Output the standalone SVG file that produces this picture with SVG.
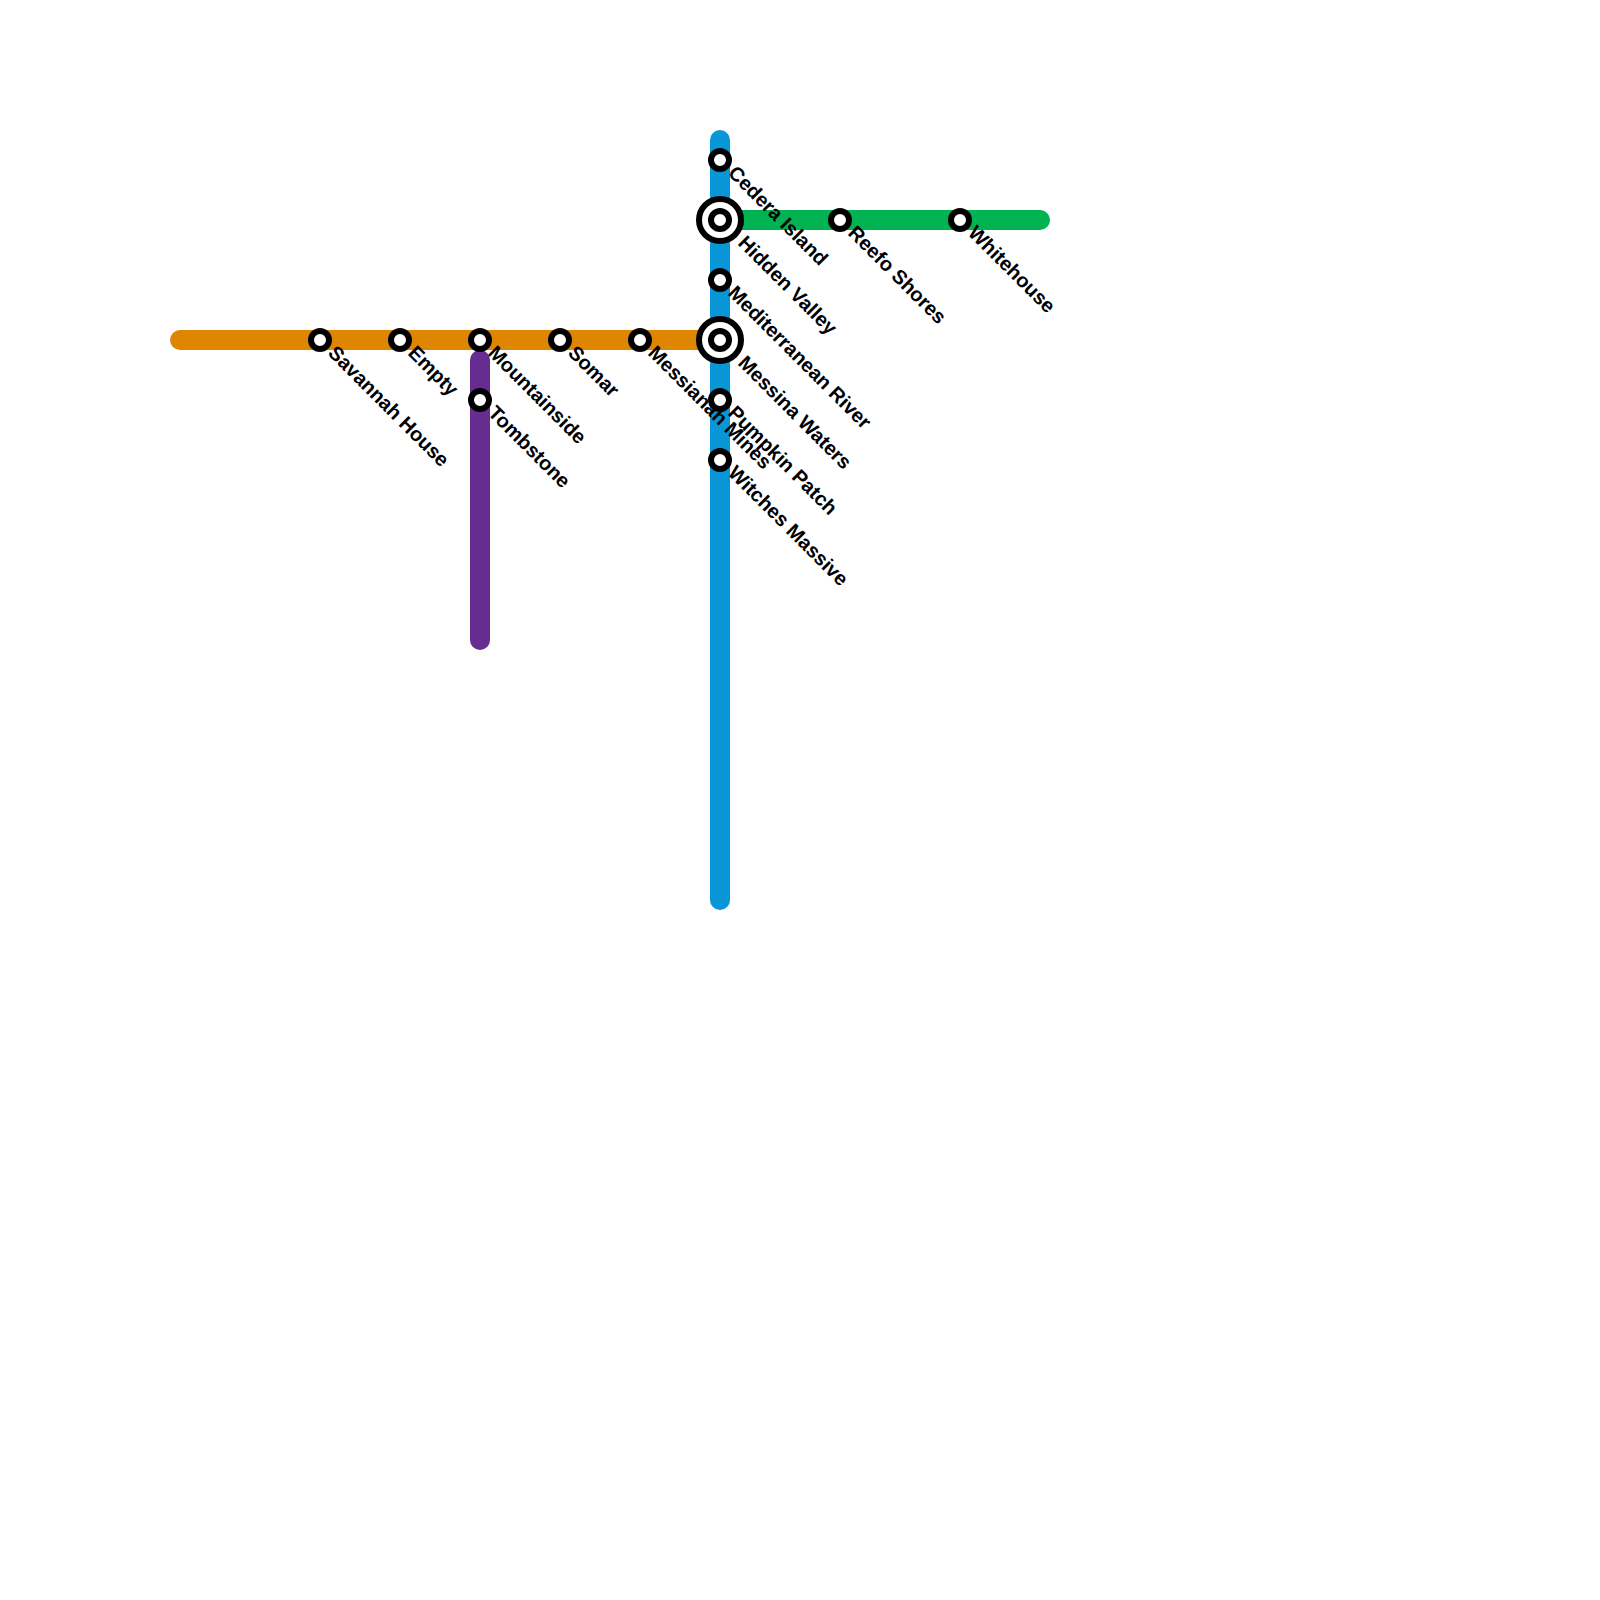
<svg xmlns="http://www.w3.org/2000/svg" width="1600" height="1600" viewBox="0 0 1600 1600">
<style>
.line{fill:none;stroke-width:20;stroke-linecap:round}
.ring{fill:#fff;stroke:#000;stroke-width:6}
.label{font-family:"Liberation Sans",Arial,sans-serif;font-size:20px;font-weight:700;fill:#000}
</style>
<rect width="1600" height="1600" fill="#fff"/>
<g id="connectors">
<path class="line" stroke="#00b251" d="M720 220H1040"/>
<path class="line" stroke="#df8600" d="M180 340H720"/>
<path class="line" stroke="#662c90" d="M480 360V640"/>
<path class="line" stroke="#0896d7" d="M720 140V900"/>
</g>
<g id="savannah-house"><circle class="ring" cx="320" cy="340" r="9"/><text class="label" transform="translate(327 354) rotate(45)">Savannah House</text></g>
<g id="empty"><circle class="ring" cx="400" cy="340" r="9"/><text class="label" transform="translate(407 354) rotate(45)">Empty</text></g>
<g id="mountainside"><circle class="ring" cx="480" cy="340" r="9"/><text class="label" transform="translate(487 354) rotate(45)">Mountainside</text></g>
<g id="somar"><circle class="ring" cx="560" cy="340" r="9"/><text class="label" transform="translate(567 354) rotate(45)">Somar</text></g>
<g id="messianah-mines"><circle class="ring" cx="640" cy="340" r="9"/><text class="label" transform="translate(647 354) rotate(45)">Messianah Mines</text></g>
<g id="tombstone"><circle class="ring" cx="480" cy="400" r="9"/><text class="label" transform="translate(487 414) rotate(45)">Tombstone</text></g>
<g id="cedera-island"><circle class="ring" cx="720" cy="160" r="9"/><text class="label" transform="translate(727 174) rotate(45)">Cedera Island</text></g>
<g id="hidden-valley"><circle class="ring" cx="720" cy="220" r="21"/><circle class="ring" cx="720" cy="220" r="9"/><text class="label" transform="translate(737 244) rotate(45)">Hidden Valley</text></g>
<g id="mediterranean-river"><circle class="ring" cx="720" cy="280" r="9"/><text class="label" transform="translate(727 294) rotate(45)">Mediterranean River</text></g>
<g id="messina-waters"><circle class="ring" cx="720" cy="340" r="21"/><circle class="ring" cx="720" cy="340" r="9"/><text class="label" transform="translate(737 364) rotate(45)">Messina Waters</text></g>
<g id="pumpkin-patch"><circle class="ring" cx="720" cy="400" r="9"/><text class="label" transform="translate(727 414) rotate(45)">Pumpkin Patch</text></g>
<g id="witches-massive"><circle class="ring" cx="720" cy="460" r="9"/><text class="label" transform="translate(727 474) rotate(45)">Witches Massive</text></g>
<g id="reefo-shores"><circle class="ring" cx="840" cy="220" r="9"/><text class="label" transform="translate(847 234) rotate(45)">Reefo Shores</text></g>
<g id="whitehouse"><circle class="ring" cx="960" cy="220" r="9"/><text class="label" transform="translate(967 234) rotate(45)">Whitehouse</text></g>
</svg>
